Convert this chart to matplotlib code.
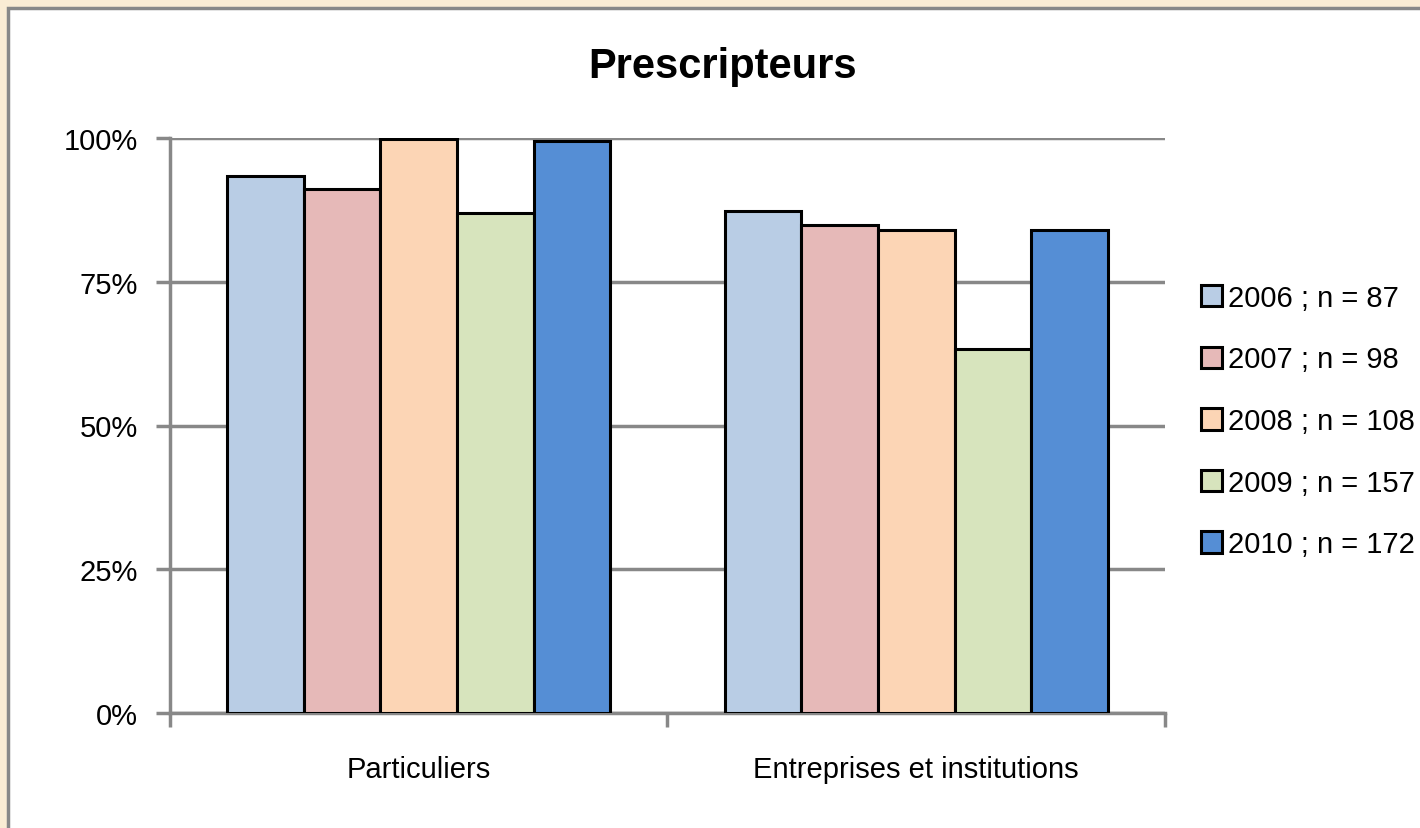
import numpy as np
import matplotlib.pyplot as plt
import matplotlib.patches as patches
from matplotlib.ticker import PercentFormatter

plt.rcParams['font.family'] = ['Liberation Sans', 'DejaVu Sans']

categories = ['Particuliers', 'Entreprises et institutions']
series = ['2006 ; n = 87', '2007 ; n = 98', '2008 ; n = 108', '2009 ; n = 157', '2010 ; n = 172']
values = [
    [0.934, 0.873],
    [0.911, 0.849],
    [0.998, 0.840],
    [0.870, 0.633],
    [0.995, 0.840],
]
colors = ['#B9CDE5', '#E6B9B8', '#FCD5B5', '#D7E4BD', '#558ED5']

fig = plt.figure(figsize=(14.2, 8.29), dpi=100)
fig.patch.set_facecolor('#FAECD4')
# white chart panel with grey frame, behind the axes
panel = patches.Rectangle((8/1420, -0.1), 1.2, (829-9)/829 + 0.1, transform=fig.transFigure,
                          facecolor='white', edgecolor='#888888', lw=2.5, zorder=-10)
fig.patches.append(panel)

ax = fig.add_axes([170/1420, 115/829, 995/1420, 575/829])
ax.set_facecolor('white')

x = np.arange(len(categories))
w = 0.154
for i, (lab, vals, c) in enumerate(zip(series, values, colors)):
    ax.bar(x + (i - 2) * w, vals, w, color=c, edgecolor='black', linewidth=2.2, label=lab, zorder=3)

ax.set_xlim(-0.5, 1.5)
ax.set_ylim(0, 1)
ax.set_yticks([0, 0.25, 0.5, 0.75, 1.0])
ax.yaxis.set_major_formatter(PercentFormatter(1.0, decimals=0))
ax.grid(axis='y', color='#888888', linewidth=2.5, zorder=1)

ax.set_xticks(x)
ax.set_xticklabels(categories, fontsize=21)
ax.set_xticks([-0.5, 0.5, 1.5], minor=True)
ax.tick_params(axis='x', which='major', length=0, pad=30)
ax.tick_params(axis='x', which='minor', length=10, width=2.5, color='#888888')
ax.tick_params(axis='y', length=10, width=2.5, color='#888888', labelsize=21, pad=13)

for s in ['top', 'right']:
    ax.spines[s].set_visible(False)
for s in ['left', 'bottom']:
    ax.spines[s].set_color('#888888')
    ax.spines[s].set_linewidth(2.5)

fig.text(723/1420, 1 - 67/829, 'Prescripteurs', ha='center', va='center',
         fontsize=30, fontweight='bold')

leg = ax.legend(loc='center left', bbox_to_anchor=(1186/1420, 1 - 422/829),
                bbox_transform=fig.transFigure, frameon=False, fontsize=21,
                handlelength=0.75, handleheight=0.75, handletextpad=0.2, labelspacing=1.15,
                borderpad=0)

fig.savefig('out.png', dpi=100, facecolor=fig.get_facecolor())
